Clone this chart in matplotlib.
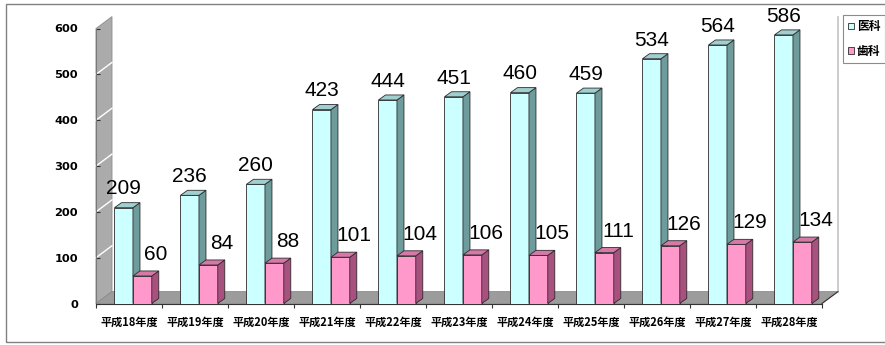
import matplotlib
matplotlib.use("Agg")
import matplotlib.pyplot as plt
from matplotlib.patches import Polygon, Rectangle
from matplotlib.lines import Line2D

# --- data -------------------------------------------------------------
years = ["平成18年度", "平成19年度", "平成20年度", "平成21年度", "平成22年度",
         "平成23年度", "平成24年度", "平成25年度", "平成26年度", "平成27年度",
         "平成28年度"]
ika = [209, 236, 260, 423, 444, 451, 460, 459, 534, 564, 586]      # 医科
shika = [60, 84, 88, 101, 104, 106, 105, 111, 126, 129, 134]        # 歯科
series_names = ["医科", "歯科"]
yticks = [0, 100, 200, 300, 400, 500, 600]

# --- figure / axes ----------------------------------------------------
W, H = 885, 345
fig = plt.figure(figsize=(W / 100, H / 100), dpi=100)
fig.patch.set_facecolor("white")
ax = fig.add_axes([96 / W, (H - 303.5) / H, 726 / W, 275 / H])
ax.set_xlim(-0.5, len(years) - 0.5)
ax.set_ylim(0, 600)
ax.patch.set_alpha(0)

# pseudo-3D depth offsets (data units)
WALL_DX, WALL_DY = 16 / 66, 26.0     # back wall / floor depth
BAR_DX, BAR_DY = 7 / 66, 11.0        # bar depth

x_lo, x_hi = ax.get_xlim()
y_top = ax.get_ylim()[1]

# back wall and floor
wall = Polygon([(x_lo, 0), (x_lo, y_top), (x_lo + WALL_DX, y_top + WALL_DY),
                (x_lo + WALL_DX, WALL_DY)], closed=True, facecolor="#ababab",
               edgecolor="#8c8c8c", lw=0.6, zorder=1, clip_on=False)
floor = Polygon([(x_lo, 0), (x_hi, 0), (x_hi + WALL_DX, WALL_DY),
                 (x_lo + WALL_DX, WALL_DY)], closed=True, facecolor="#9c9c9c",
                edgecolor="#8c8c8c", lw=0.6, zorder=1, clip_on=False)
ax.add_patch(wall)
ax.add_patch(floor)
for v in yticks[1:-1]:
    ax.add_line(Line2D([x_lo, x_lo + WALL_DX], [v, v + WALL_DY], color="white",
                       lw=1.0, zorder=1.5, clip_on=False))
# back right edge of the plot box
ax.add_line(Line2D([x_hi + WALL_DX, x_hi + WALL_DX], [WALL_DY, y_top + WALL_DY],
                   color="#c4c4c4", lw=1.2, zorder=1, clip_on=False))
# front right floor edge
ax.add_line(Line2D([x_hi, x_hi + WALL_DX], [0, WALL_DY], color="#333333",
                   lw=0.8, zorder=1.6, clip_on=False))

EDGE = "#2b2b2b"


def bar3d(lefts, width, heights, front, side, top, z):
    bars = ax.bar(lefts, heights, width=width, align="edge", color=front,
                  edgecolor=EDGE, linewidth=0.6, zorder=z)
    for x0, h in zip(lefts, heights):
        ax.add_patch(Polygon([(x0 + width, 0), (x0 + width + BAR_DX, BAR_DY),
                              (x0 + width + BAR_DX, h + BAR_DY), (x0 + width, h)],
                             closed=True, facecolor=side, edgecolor=EDGE,
                             lw=0.6, zorder=z))
        ax.add_patch(Polygon([(x0, h), (x0 + width, h),
                              (x0 + width + BAR_DX, h + BAR_DY),
                              (x0 + BAR_DX, h + BAR_DY)],
                             closed=True, facecolor=top, edgecolor=EDGE,
                             lw=0.6, zorder=z))
    return bars


idx = list(range(len(years)))
w_ika, w_shika = 0.28, 0.285
left_ika = [i - 0.22 for i in idx]
left_shika = [i - 0.22 + w_ika for i in idx]

b1 = bar3d(left_ika, w_ika, ika, "#ccffff", "#6e9c9c", "#9fcfcf", 2)
b2 = bar3d(left_shika, w_shika, shika, "#ff99cc", "#a8507e", "#d679a8", 3)

# value labels
lab_font = dict(family="Liberation Sans", fontsize=15, color="black")
for x0, v in zip(left_ika, ika):
    ax.annotate(str(v), (x0 + w_ika / 2, v + BAR_DY), xytext=(0, 3),
                textcoords="offset points", ha="center", va="bottom",
                zorder=5, annotation_clip=False, **lab_font)
for i, v in zip(idx, shika):
    ax.annotate(str(v), (i + 0.41, v + BAR_DY), xytext=(0, 5),
                textcoords="offset points", ha="center", va="bottom",
                zorder=5, annotation_clip=False, **lab_font)

# axes styling
for s in ("top", "right"):
    ax.spines[s].set_visible(False)
ax.spines["left"].set_color("#7a7a7a")
ax.spines["bottom"].set_color("#333333")
ax.spines["bottom"].set_linewidth(0.8)
ax.spines["left"].set_zorder(1.7)
ax.spines["bottom"].set_zorder(1.7)

ax.set_yticks(yticks)
ax.set_yticklabels([str(t) for t in yticks], family="DejaVu Sans",
                   fontweight="bold", fontsize=8.2)
ax.tick_params(axis="y", direction="in", length=3, width=0.8,
               color="#333333", pad=13)

ax.set_xticks(idx)
ax.set_xticklabels(years, family=["Noto Sans CJK JP", "DejaVu Sans"],
                   fontweight="bold", fontsize=8)
ax.tick_params(axis="x", which="major", length=0, pad=9)
ax.set_xticks([i - 0.5 for i in range(len(years) + 1)], minor=True)
ax.tick_params(axis="x", which="minor", length=3, color="#333333", width=0.8)

# legend
leg = fig.legend([b1, b2], series_names, loc="upper left",
                 bbox_to_anchor=(843 / W, 1 - 15 / H), borderaxespad=0,
                 frameon=True, fancybox=False, edgecolor="#707070",
                 handlelength=0.5, handleheight=0.5, handletextpad=0.2,
                 labelspacing=0.95, borderpad=0.45,
                 prop=dict(family=["Noto Sans CJK JP", "DejaVu Sans"],
                           weight="bold", size=8.5))
leg.get_frame().set_linewidth(0.8)

# chart border
fig.add_artist(Rectangle((6 / W, 3 / H), 885 / W, (H - 7) / H,
                         transform=fig.transFigure, fill=False,
                         edgecolor="#808080", lw=1.0))

fig.savefig("out.png", dpi=100)
